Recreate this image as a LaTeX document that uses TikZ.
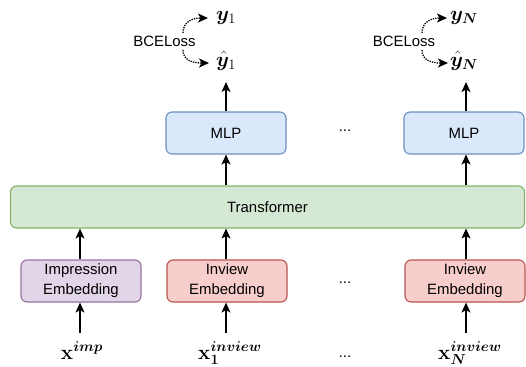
\documentclass[tikz,border=0pt]{standalone}
\usepackage[no-math]{fontspec}
\setmainfont{Liberation Sans}
\usepackage{amsmath,bm}
\usetikzlibrary{arrows.meta}
\definecolor{gfill}{HTML}{D5E8D4}\definecolor{gdraw}{HTML}{82B366}
\definecolor{bfill}{HTML}{DAE8FC}\definecolor{bdraw}{HTML}{6C8EBF}
\definecolor{rfill}{HTML}{F8CECC}\definecolor{rdraw}{HTML}{B85450}
\definecolor{pfill}{HTML}{E1D5E7}\definecolor{pdraw}{HTML}{9673A6}
\begin{document}
\begin{tikzpicture}[x=1bp,y=-1bp,
  box/.style={rectangle, rounded corners=6bp, line width=1.1bp, minimum width=120bp,
    minimum height=42bp, inner sep=0pt, align=center, font=\fontsize{15}{20}\selectfont},
  greenbox/.style={box, fill=gfill, draw=gdraw},
  bluebox/.style={box, fill=bfill, draw=bdraw},
  redbox/.style={box, fill=rfill, draw=rdraw},
  purplebox/.style={box, fill=pfill, draw=pdraw},
  mth/.style={inner sep=1bp, font=\fontsize{21}{24}\selectfont},
  txt/.style={inner sep=1bp, font=\fontsize{15}{18}\selectfont},
  arr/.style={-{Stealth[length=10bp,width=9bp,inset=2.5bp]}, line width=1.3bp},
  loss/.style={-{Stealth[length=10bp,width=9bp,inset=2.5bp]}, line width=1.3bp,
    dash pattern=on 1.3bp off 1.1bp}]
\useasboundingbox (0,0) rectangle (526,366);
% boxes
\node[greenbox, minimum width=514bp] (tr) at (267.5,207) {Transformer};
\node[bluebox] (mlp1) at (226,133) {MLP};
\node[bluebox] (mlpN) at (464,133) {MLP};
\node[purplebox] (imp) at (81,281) {Impression\\Embedding};
\node[redbox] (inv1) at (227,281) {Inview\\Embedding};
\node[redbox] (invN) at (465,281) {Inview\\Embedding};
% dots
\node[txt, anchor=base] (d1) at (345,131) {...};
\node[txt, anchor=base] (d2) at (345,283) {...};
\node[txt, anchor=base] (d3) at (345,357) {...};
% inputs
\node[mth, anchor=base] (xi) at (82,359) {$\mathbf{x}^{\boldsymbol{imp}}$};
\node[mth, anchor=base] (x1) at (230,359) {$\mathbf{x}_{\mathbf{1}}^{\boldsymbol{inview}}$};
\node[mth, anchor=base] (xN) at (470,359) {$\mathbf{x}_{\boldsymbol{N}}^{\boldsymbol{inview}}$};
\coordinate (ci) at (80,333);
\coordinate (c1) at (226,333);
\coordinate (cN) at (466,333);
% outputs
\node[mth, anchor=base] (y1) at (226,20) {$\boldsymbol{y}_1$};
\node[mth, anchor=base] (yh1) at (226,66) {$\hat{\boldsymbol{y}}_1$};
\node[mth, anchor=base] (yN) at (464,20) {$\boldsymbol{y}_{\boldsymbol{N}}$};
\node[mth, anchor=base] (yhN) at (464,66) {$\hat{\boldsymbol{y}}_{\boldsymbol{N}}$};
\node[txt] (bce1) at (164.5,41) {BCELoss};
\node[txt] (bceN) at (404,41) {BCELoss};
\coordinate (t1) at (226,82);
\coordinate (tN) at (466,82);
% arrows
\draw[arr] (ci) -- (ci |- imp.south);
\draw[arr] (c1) -- (c1 |- inv1.south);
\draw[arr] (cN) -- (cN |- invN.south);
\draw[arr] (ci |- imp.north) -- (ci |- tr.south);
\draw[arr] (c1 |- inv1.north) -- (c1 |- tr.south);
\draw[arr] (cN |- invN.north) -- (cN |- tr.south);
\draw[arr] (c1 |- tr.north) -- (c1 |- mlp1.south);
\draw[arr] (cN |- tr.north) -- (cN |- mlpN.south);
\draw[arr] (c1 |- mlp1.north) -- (t1);
\draw[arr] (cN |- mlpN.north) -- (tN);
% loss arrows
\coordinate (a1) at (183,33);
\coordinate (b1) at (183,50);
\coordinate (aN) at (422,33);
\coordinate (bN) at (422,50);
\draw[loss] (a1) .. controls (183,22) and (192,18) .. (208,18);
\draw[loss] (b1) .. controls (183,60) and (192,63) .. (209,63);
\draw[loss] (aN) .. controls (422,22) and (431,18) .. (447,18);
\draw[loss] (bN) .. controls (422,60) and (431,63) .. (448,63);
\end{tikzpicture}
\end{document}
